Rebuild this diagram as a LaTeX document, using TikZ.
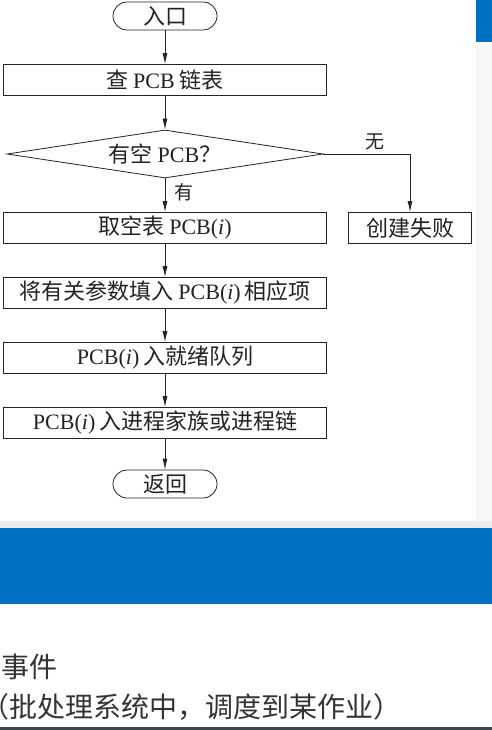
\documentclass[tikz,border=0pt]{standalone}
\usepackage{fontspec}
\setmainfont{Noto Sans CJK SC}
\newfontfamily\latin{Liberation Serif}
\usetikzlibrary{shapes.geometric,shapes.misc,arrows.meta}
\definecolor{slideblue}{HTML}{0070C0}
\definecolor{slidedark}{HTML}{3C4650}
\definecolor{inkgray}{HTML}{222222}
\newcommand{\pcbi}{{\latin PCB(\textit{i})}}

\begin{document}
\begin{tikzpicture}[>={Latex[length=11pt,width=5pt]}, x=1pt, y=1pt, node distance=65pt,
  box/.style={draw=inkgray, line width=0.8pt, minimum width=323pt, minimum height=31pt, inner sep=0pt, text=inkgray, font=\fontsize{22}{25}\selectfont},
  term/.style={draw=inkgray, line width=0.8pt, rounded rectangle, minimum width=104pt, minimum height=28pt, inner sep=0pt, text=inkgray, font=\fontsize{22}{25}\selectfont},
  decide/.style={draw=inkgray, line width=0.8pt, diamond, aspect=6.6, minimum width=316pt, minimum height=48pt, inner sep=0pt, text=inkgray, font=\fontsize{22}{25}\selectfont},
  flow/.style={draw=inkgray, line width=0.8pt, ->},
  tag/.style={text=inkgray, font=\fontsize{19}{22}\selectfont}]
\useasboundingbox (0,0) rectangle (492,-730);

% slide background
\fill[slideblue] (476,0) rectangle (492,-42);
\fill[black!3] (476,-42) rectangle (492,-521);
\fill[black!7] (0,-521) rectangle (492,-528);
\fill[slideblue] (0,-528) rectangle (492,-604);
\fill[slidedark] (0,-727) rectangle (492,-730);

% flow chart
\node[term, name=entry] at (165,-16) {入口};
\node[box, name=check, below of=entry, yshift=1pt] {查 {\latin PCB} 链表};
\node[decide, name=dec, below of=check, yshift=-9pt] {有空 {\latin PCB}？};
\node[box, name=take, below of=dec, yshift=-9pt] {取空表 \pcbi};
\node[box, name=fail, right of=take, node distance=245pt, minimum width=123pt] {创建失败};
\node[box, name=fill, below of=take] {将有关参数填入 \pcbi\,相应项};
\node[box, name=ready, below of=fill] {\pcbi\,入就绪队列};
\node[box, name=family, below of=ready] {\pcbi\,入进程家族或进程链};
\node[term, name=ret, below of=family, yshift=4pt] {返回};

\draw(entry.south) edge[flow](check.north);
\draw(check.south) edge[flow](dec.north);
\draw(dec.south) edge[flow]node[tag, right, pos=0.4, xshift=6pt]{有}(take.north);
\draw[flow](dec.east) -| node[tag, above, pos=0.3]{无}(fail.north);
\draw(take.south) edge[flow](fill.north);
\draw(fill.south) edge[flow](ready.north);
\draw(ready.south) edge[flow](family.north);
\draw(family.south) edge[flow](ret.north);

% slide text
\node[name=event, anchor=west, inner sep=0pt, text=black!80, font=\fontsize{28}{32}\selectfont] at (1,-667) {事件};
\node[name=note, anchor=west, inner sep=0pt, text=black!80, font=\fontsize{28}{32}\selectfont] at (-19,-707) {（批处理系统中，调度到某作业）};

\end{tikzpicture}
\end{document}
